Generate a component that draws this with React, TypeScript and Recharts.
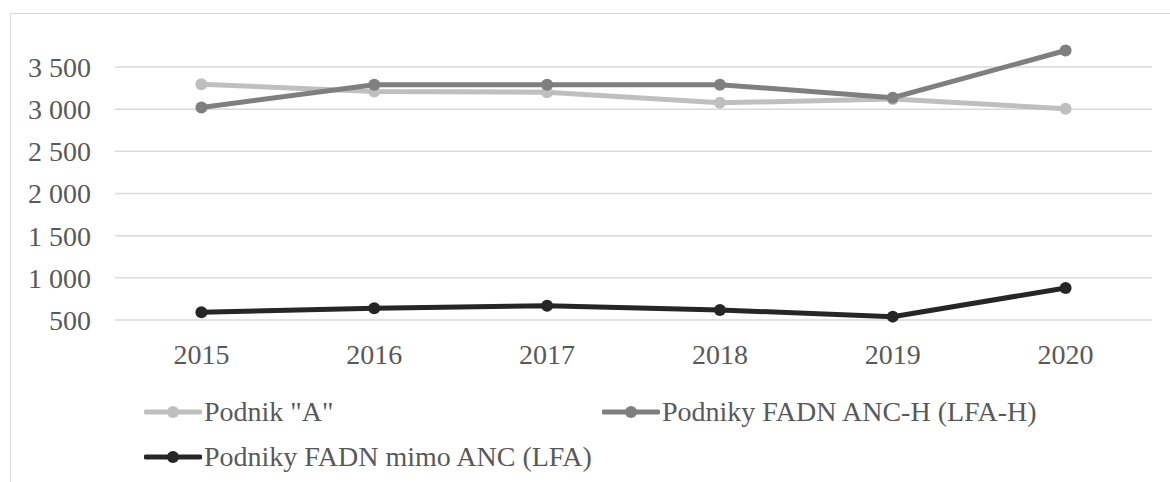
import React from 'react';
import { LineChart, Line, XAxis, YAxis, CartesianGrid, Legend } from 'recharts';

const years = ['2015', '2016', '2017', '2018', '2019', '2020'];
const podnikA = [3295, 3210, 3200, 3075, 3120, 3005];
const ancH = [3020, 3290, 3290, 3290, 3135, 3695];
const mimoAnc = [591, 638, 670, 619, 540, 880];
const yTicks = [500, 1000, 1500, 2000, 2500, 3000, 3500];

const seriesNames = ['Podnik "A"', 'Podniky FADN ANC-H (LFA-H)', 'Podniky FADN mimo ANC (LFA)'];
const seriesColors = ['#BFBFBF', '#7F7F7F', '#262626'];

const data = years.map((year, i) => ({
  year,
  a: podnikA[i],
  h: ancH[i],
  m: mimoAnc[i],
}));

const FONT = '"Liberation Serif", "Times New Roman", serif';
const SIZE = 28;
const TEXT = '#595959';

const fmt = (v: number) => {
  const s = String(v);
  return s.length > 3 ? s.slice(0, s.length - 3) + ' ' + s.slice(-3) : s;
};

// legend items: [left, top] inside the legend box
const legendPos: Array<[number, number]> = [
  [144, 30],
  [602, 30],
  [144, 75],
];

function LegendBox() {
  return (
    <div style={{ position: 'relative', width: 1170, height: 100 }}>
      {seriesNames.map((name, i) => (
        <div
          key={name}
          style={{
            position: 'absolute',
            left: legendPos[i][0],
            top: legendPos[i][1] - 17,
            height: 34,
            display: 'flex',
            alignItems: 'center',
            whiteSpace: 'nowrap',
          }}
        >
          <svg width={58} height={14} style={{ marginRight: 2 }}>
            <line x1={2} y1={7} x2={56} y2={7} stroke={seriesColors[i]} strokeWidth={5} strokeLinecap="round" />
            <circle cx={29} cy={7} r={6} fill={seriesColors[i]} />
          </svg>
          <span style={{ fontFamily: FONT, fontSize: SIZE, color: TEXT }}>{name}</span>
        </div>
      ))}
    </div>
  );
}

export default function App() {
  return (
    <div
      style={{
        position: 'absolute',
        left: 0,
        top: 0,
        width: 1170,
        height: 482,
        overflow: 'hidden',
        background: '#fff',
      }}
    >
      <div
        style={{
          position: 'absolute',
          left: 10,
          top: 13,
          width: 1200,
          height: 520,
          border: '1px solid #d9d9d9',
        }}
      />
      <LineChart
        width={1170}
        height={482}
        data={data}
        margin={{ top: 24.8, right: 18, left: 0, bottom: 22 }}
      >
        <CartesianGrid vertical={false} horizontalValues={yTicks} stroke="#d9d9d9" strokeWidth={1.5} />
        <XAxis
          dataKey="year"
          height={40}
          padding={{ left: 86.4, right: 86.4 }}
          axisLine={false}
          tickLine={false}
          tickSize={0}
          tickMargin={24}
          tick={{ fontFamily: FONT, fontSize: SIZE, fill: TEXT }}
        />
        <YAxis
          width={115}
          domain={[500, 4000]}
          ticks={yTicks}
          axisLine={false}
          tickLine={false}
          tickSize={0}
          tickMargin={24}
          tickFormatter={fmt}
          tick={{ fontFamily: FONT, fontSize: SIZE, fill: TEXT }}
        />
        <Legend
          verticalAlign="bottom"
          content={() => <LegendBox />}
          wrapperStyle={{ left: 0, top: 382, bottom: 'auto', width: 1170, height: 100 }}
        />
        <Line
          type="linear"
          dataKey="a"
          name={seriesNames[0]}
          stroke={seriesColors[0]}
          strokeWidth={5}
          dot={{ r: 6, fill: seriesColors[0], stroke: seriesColors[0], strokeWidth: 0 }}
          isAnimationActive={false}
        />
        <Line
          type="linear"
          dataKey="h"
          name={seriesNames[1]}
          stroke={seriesColors[1]}
          strokeWidth={5}
          dot={{ r: 6, fill: seriesColors[1], stroke: seriesColors[1], strokeWidth: 0 }}
          isAnimationActive={false}
        />
        <Line
          type="linear"
          dataKey="m"
          name={seriesNames[2]}
          stroke={seriesColors[2]}
          strokeWidth={5}
          dot={{ r: 6, fill: seriesColors[2], stroke: seriesColors[2], strokeWidth: 0 }}
          isAnimationActive={false}
        />
      </LineChart>
    </div>
  );
}
